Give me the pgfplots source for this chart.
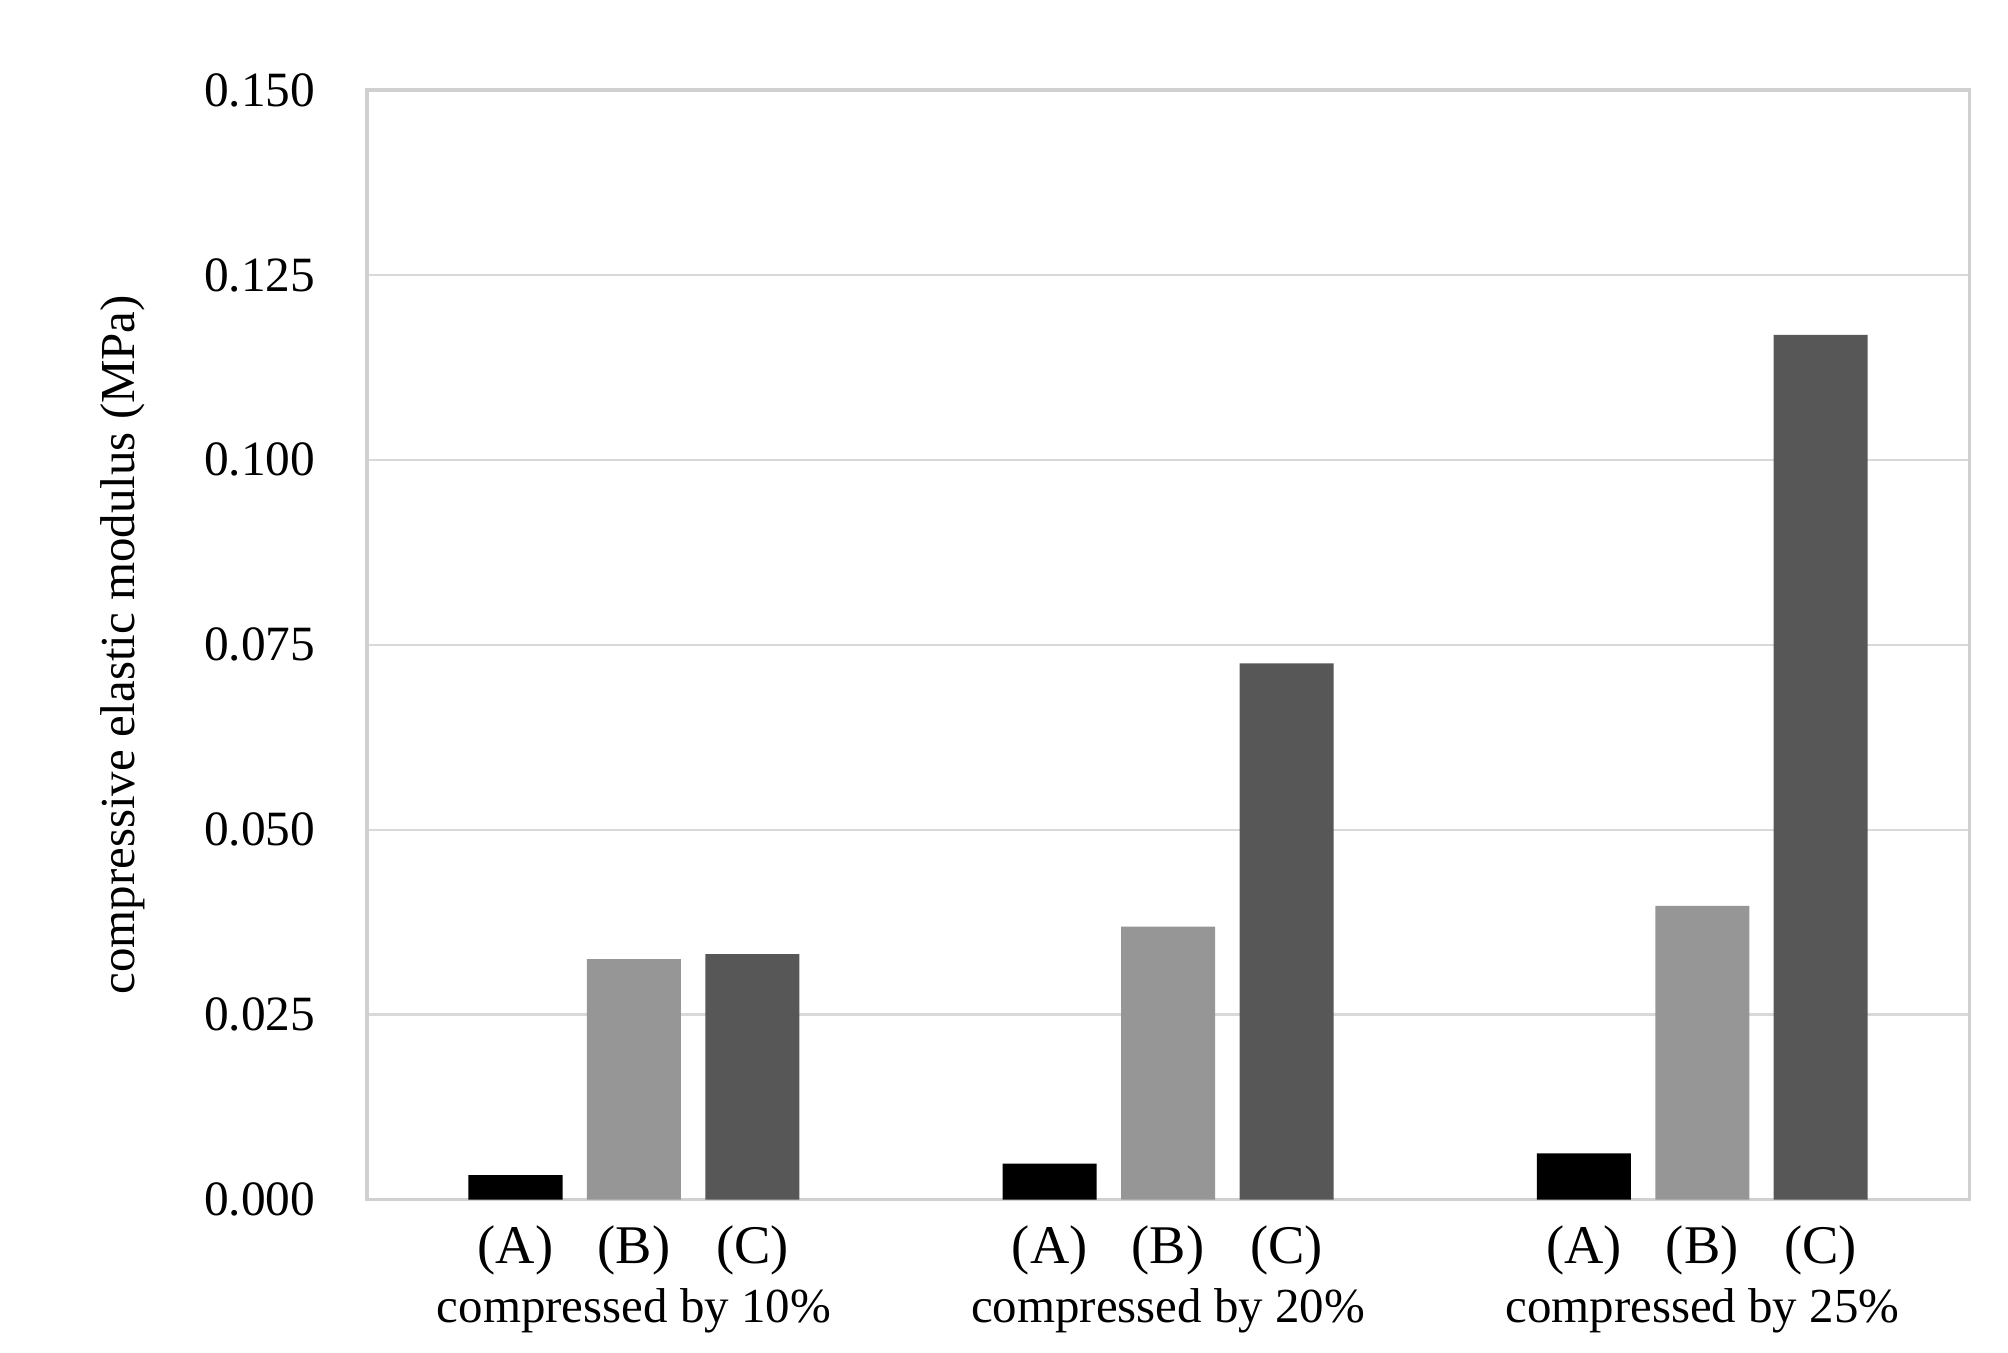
\documentclass[border=0pt]{standalone}
\usepackage{pgfplots}
\pgfplotsset{compat=1.18}
\usepackage{fontspec}
\setmainfont{Liberation Serif}
\definecolor{barA}{HTML}{000000}
\definecolor{barB}{HTML}{969696}
\definecolor{barC}{HTML}{575757}
\definecolor{frame}{HTML}{D0D0D0}
\definecolor{gridc}{HTML}{D9D9D9}
\begin{document}
\begin{tikzpicture}
\begin{axis}[
  name=ax,
  scale only axis,
  width=373.5pt, height=258.6pt,
  xmin=-0.5, xmax=2.5,
  ymin=0, ymax=0.15,
  ytick={0,0.025,0.05,0.075,0.1,0.125,0.15},
  yticklabel style={/pgf/number format/fixed,/pgf/number format/fixed zerofill,/pgf/number format/precision=3, xshift=-8.5pt, font=\fontsize{11.5}{14}\selectfont},
  /pgf/number format/assume math mode=true,
  scaled y ticks=false,
  ymajorgrids,
  grid style={gridc, line width=0.6pt},
  axis line style={frame, line width=0.8pt},
  major tick length=0pt,
  xtick={-0.2217,0,0.2217,0.7783,1,1.2217,1.7783,2,2.2217},
  xticklabels={(A),(B),(C),(A),(B),(C),(A),(B),(C)},
  xticklabel style={yshift=-2.6pt, font=\fontsize{12.7}{14}\selectfont},
  extra x ticks={0,1,2},
  extra x tick labels={compressed by 10\%,compressed by 20\%,compressed by 25\%},
  extra x tick style={grid=none, major tick length=0pt, xticklabel style={yshift=-14.6pt, font=\fontsize{11.4}{14}\selectfont}},
  every axis y label/.style={at={(axis description cs:-0.1526,0.5)}, rotate=90, anchor=center, font=\fontsize{11.4}{14}\selectfont},
  ylabel={compressive elastic modulus (MPa)},
  ybar, bar width=0.176, bar shift=0pt,
]
\addplot[fill=barA, draw=none] coordinates {(-0.2217,0.0033) (0.7783,0.00487) (1.7783,0.00626)};
\addplot[fill=barB, draw=none] coordinates {(0,0.0325) (1,0.0369) (2,0.0397)};
\addplot[fill=barC, draw=none] coordinates {(0.2217,0.0332) (1.2217,0.0725) (2.2217,0.1169)};
\end{axis}
\path ([xshift=-85.5pt,yshift=-35.7pt]ax.south west) rectangle ([xshift=9pt,yshift=21pt]ax.north east);
\end{tikzpicture}
\end{document}
